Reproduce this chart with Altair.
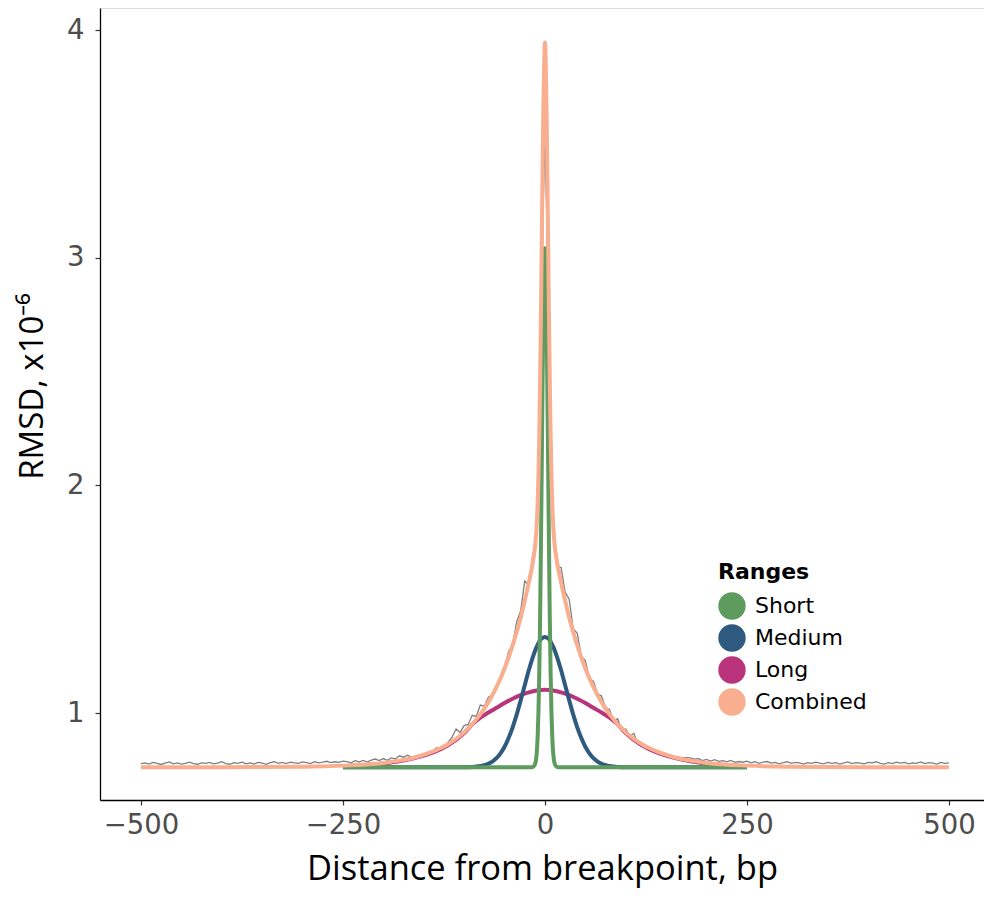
import altair as alt
import pandas as pd

# ---------------- data ----------------
SERIES = ["Short", "Medium", "Long", "Combined"]
COLORS = ["#5E9B5E", "#2E5A7F", "#B9347B", "#F8AE8F"]
GREY = "#7F7F7F"

X_TICKS = [-500, -250, 0, 250, 500]
Y_TICKS = [1, 2, 3, 4]

# raw measured RMSD (grey, noisy)
GREY_X = list(range(-500, -14, 5)) + [-12, -10, -8, -6, -4, -2, 0, 2, 4, 6, 8, 10, 12] + list(range(15, 501, 5))
GREY_Y_LEFT = [
    0.778, 0.781, 0.776, 0.783, 0.779, 0.774, 0.780, 0.785, 0.777, 0.781,
    0.776, 0.779, 0.784, 0.778, 0.775, 0.781, 0.779, 0.783, 0.777, 0.780,
    0.786, 0.778, 0.775, 0.782, 0.779, 0.784, 0.777, 0.781, 0.776, 0.783,
    0.780, 0.775, 0.782, 0.786, 0.779, 0.783, 0.778, 0.784, 0.781, 0.779,
    0.785, 0.782, 0.778, 0.786, 0.781, 0.784, 0.788, 0.782, 0.786, 0.783,
    0.789,
    0.787, 0.781, 0.791, 0.785, 0.792, 0.785, 0.793, 0.798, 0.791, 0.800,
    0.792, 0.803, 0.799, 0.812, 0.806, 0.815, 0.805, 0.811, 0.813, 0.810,
    0.826, 0.826, 0.846, 0.848, 0.851, 0.871, 0.894, 0.930, 0.915, 0.945,
    0.950, 0.990, 0.985, 1.035, 1.030, 1.070, 1.080, 1.110, 1.160, 1.200,
    1.270, 1.300, 1.400, 1.450, 1.580, 1.560, 1.700,
]
GREY_Y_CENTER = [1.72, 1.80, 1.98, 2.30, 2.80, 3.25, 3.52, 3.22, 2.78, 2.32, 1.96, 1.79, 1.71]
GREY_Y_RIGHT = [
    1.640, 1.640, 1.530, 1.500, 1.370, 1.350, 1.250, 1.230, 1.150, 1.140,
    1.085, 1.075, 1.025, 1.015, 0.965, 0.975, 0.925, 0.930, 0.900, 0.910,
    0.864, 0.852, 0.845, 0.836, 0.830, 0.822, 0.818, 0.812, 0.812, 0.806,
    0.806, 0.804, 0.804, 0.803, 0.798, 0.800, 0.791, 0.796, 0.789, 0.795,
    0.788, 0.791, 0.786, 0.792, 0.783, 0.787, 0.784,
    0.789,
    0.781, 0.786, 0.779, 0.784, 0.787, 0.780, 0.783, 0.777, 0.782, 0.786,
    0.779, 0.783, 0.781, 0.776, 0.782, 0.779, 0.784, 0.780, 0.777, 0.783,
    0.779, 0.782, 0.776, 0.781, 0.785, 0.778, 0.782, 0.780, 0.777, 0.783,
    0.781, 0.786, 0.779, 0.776, 0.782, 0.778, 0.784, 0.780, 0.783, 0.777,
    0.781, 0.779, 0.785, 0.778, 0.782, 0.780, 0.776, 0.783, 0.779, 0.781,
]
GREY_Y = GREY_Y_LEFT + GREY_Y_CENTER + GREY_Y_RIGHT

# fitted components
SHORT_X = [-250, -16, -14, -12, -11, -10, -9, -8, -7, -6, -5, -4, -3, -2, -1, 0,
           1, 2, 3, 4, 5, 6, 7, 8, 9, 10, 11, 12, 14, 16, 250]
SHORT_Y = [0.762, 0.762, 0.765, 0.778, 0.797, 0.834, 0.900, 1.011, 1.180, 1.418, 1.722, 2.073, 2.432, 2.747, 2.965, 3.042,
           2.965, 2.747, 2.432, 2.073, 1.722, 1.418, 1.180, 1.011, 0.900, 0.834, 0.797, 0.778, 0.765, 0.762, 0.762]

MED_X = [-250, -100, -90, -80, -70, -60, -55, -50, -45, -40, -35, -30, -25, -20, -15, -10, -5, 0,
         5, 10, 15, 20, 25, 30, 35, 40, 45, 50, 55, 60, 70, 80, 90, 100, 250]
MED_Y = [0.762, 0.762, 0.763, 0.767, 0.777, 0.802, 0.823, 0.852, 0.890, 0.937, 0.993, 1.056, 1.122, 1.188, 1.246, 1.293, 1.324, 1.334,
         1.324, 1.293, 1.246, 1.188, 1.122, 1.056, 0.993, 0.937, 0.890, 0.852, 0.823, 0.802, 0.777, 0.767, 0.763, 0.762, 0.762]

LONG_X = [-250, -200, -180, -160, -140, -120, -100, -90, -80, -70, -60, -50, -40, -30, -20, -10, 0,
          10, 20, 30, 40, 50, 60, 70, 80, 90, 100, 120, 140, 160, 180, 200, 250]
LONG_Y = [0.766, 0.778, 0.788, 0.803, 0.825, 0.858, 0.912, 0.950, 0.980, 1.002, 1.023, 1.044, 1.063, 1.079, 1.091, 1.099, 1.102,
          1.099, 1.091, 1.079, 1.063, 1.044, 1.023, 1.002, 0.980, 0.950, 0.912, 0.858, 0.825, 0.803, 0.788, 0.778, 0.766]

COMB_X = [-500, -400, -300, -250, -200, -180, -160, -140, -120, -100, -80, -70, -60, -50, -40, -30, -25, -20, -15, -12,
          -10, -8, -7, -6, -5, -4, -3, -2, -1, 0, 1, 2, 3, 4, 5, 6, 7, 8, 10,
          12, 15, 20, 25, 30, 40, 50, 60, 70, 80, 100, 120, 140, 160, 180, 200, 250, 300, 400, 500]
COMB_Y = [0.762, 0.762, 0.764, 0.769, 0.781, 0.791, 0.806, 0.829, 0.863, 0.915, 0.994, 1.048, 1.114, 1.196, 1.297, 1.420, 1.493, 1.573, 1.663, 1.739,
          1.838, 2.049, 2.224, 2.454, 2.736, 3.052, 3.368, 3.647, 3.845, 3.945, 3.845, 3.647, 3.368, 3.052, 2.736, 2.454, 2.224, 2.049, 1.838,
          1.739, 1.663, 1.573, 1.493, 1.420, 1.297, 1.196, 1.114, 1.048, 0.994, 0.915, 0.863, 0.829, 0.806, 0.791, 0.781, 0.769, 0.764, 0.762, 0.762]

assert len(GREY_X) == len(GREY_Y)
assert len(SHORT_X) == len(SHORT_Y) and len(MED_X) == len(MED_Y)
assert len(LONG_X) == len(LONG_Y) and len(COMB_X) == len(COMB_Y)


def frame(xs, ys, name):
    return pd.DataFrame({"x": xs, "y": ys, "series": name})


grey_df = frame(GREY_X, GREY_Y, "Raw")
short_df = frame(SHORT_X, SHORT_Y, "Short")
med_df = frame(MED_X, MED_Y, "Medium")
long_df = frame(LONG_X, LONG_Y, "Long")
comb_df = frame(COMB_X, COMB_Y, "Combined")

TICK_FONT = "DejaVu Sans"
TITLE_FONT = "Open Sans"

# ---------------- encodings ----------------
x_enc = alt.X(
    "x:Q",
    scale=alt.Scale(domain=[-550.7, 543.4], nice=False, zero=False),
    axis=alt.Axis(
        values=X_TICKS, format="d", title="Distance from breakpoint, bp",
        grid=False, domainColor="black", domainWidth=1.3,
        tickColor="#333333", tickSize=5, tickWidth=1.2,
        labelColor="#4D4D4D", labelFont=TICK_FONT, labelFontSize=27.5,
        labelPadding=6,
        titleFont=TITLE_FONT, titleFontSize=34.5, titleFontWeight="normal", titleColor="black",
        titleY=79, titleBaseline="alphabetic",
    ),
)
y_enc = alt.Y(
    "y:Q",
    scale=alt.Scale(domain=[0.618, 4.097], nice=False, zero=False),
    axis=alt.Axis(
        values=Y_TICKS, format="d", title="RMSD, x10⁻⁶",
        grid=False, domainColor="black", domainWidth=1.3,
        tickColor="#333333", tickSize=5, tickWidth=1.2,
        labelColor="#4D4D4D", labelFont=TICK_FONT, labelFontSize=27.5,
        labelPadding=11,
        titleFont=TITLE_FONT, titleFontSize=33, titleFontWeight="normal", titleColor="black",
        titleX=-58, titleY=378, titleBaseline="alphabetic", titleAngle=270,
    ),
)
color_scale = alt.Scale(domain=SERIES, range=COLORS)
legend_color = alt.Color(
    "series:N",
    scale=color_scale,
    sort=SERIES,
    legend=alt.Legend(
        title="Ranges", orient="none", legendX=618, legendY=554,
        padding=0, symbolType="circle", symbolSize=750,
        symbolStrokeWidth=0, symbolOpacity=1, rowPadding=4,
        labelFont=TICK_FONT, labelFontSize=22, labelColor="black", labelOffset=9,
        titleFont=TICK_FONT, titleFontSize=22, titleFontWeight="bold",
        titleColor="black", titlePadding=8,
    ),
)
line_color = alt.Color("series:N", scale=color_scale, sort=SERIES, legend=None)

# empty circle layer only carries the legend (filled circle symbols)
legend_layer = alt.Chart(comb_df).mark_circle(opacity=1).encode(
    x=x_enc, y=y_enc, color=legend_color
).transform_filter("false")

grey = alt.Chart(grey_df).mark_line(color=GREY, strokeWidth=1.3).encode(x=x_enc, y=y_enc)


def comp(df):
    return alt.Chart(df).mark_line(strokeWidth=4, interpolate="monotone").encode(
        x=x_enc, y=y_enc, color=line_color
    )


chart = alt.layer(
    legend_layer, grey, comp(long_df), comp(med_df), comp(short_df), comp(comb_df)
).properties(
    width=884, height=792,
    padding={"left": 92, "top": 0, "right": 0, "bottom": 88},
    autosize=alt.AutoSizeParams(type="none"),
).configure_view(stroke=None).configure(background="white")

chart.save("out.html", embed_options={"renderer": "svg", "actions": False})
